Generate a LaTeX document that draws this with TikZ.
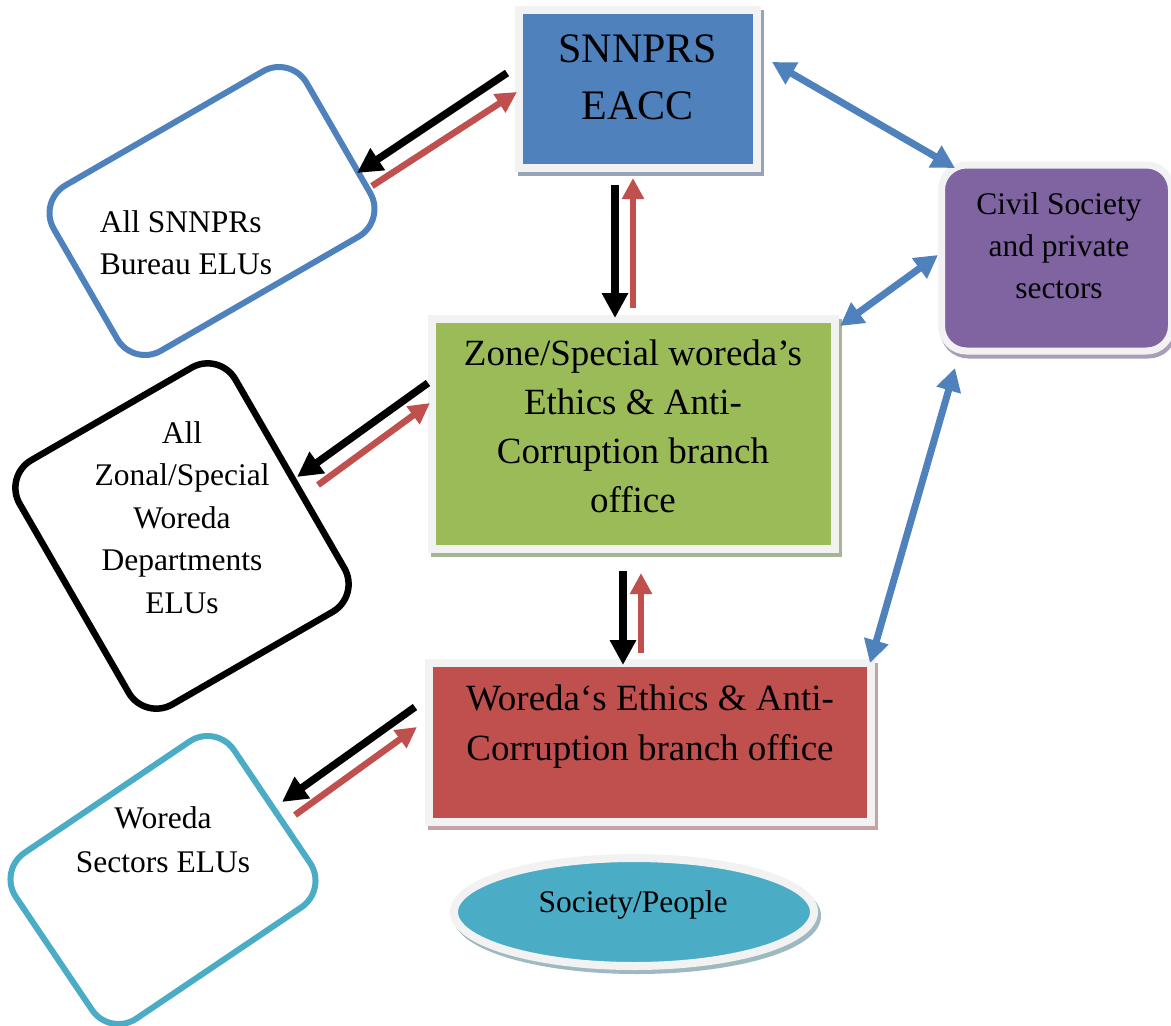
\documentclass[tikz,border=0pt]{standalone}
\usepackage{fontspec}
\setmainfont{Liberation Serif}
\usetikzlibrary{arrows.meta,shapes.geometric,shadows}
\definecolor{cblue}{HTML}{4F81BD}
\definecolor{cgreen}{HTML}{9BBB59}
\definecolor{cred}{HTML}{C0504D}
\definecolor{cpurple}{HTML}{8064A2}
\definecolor{cteal}{HTML}{4BACC6}
\definecolor{cframe}{HTML}{F2F2F2}
\definecolor{sblue}{HTML}{97A3B6}
\definecolor{sgreen}{HTML}{A8B595}
\definecolor{sred}{HTML}{C3A3A3}
\definecolor{spurple}{HTML}{AA9DB8}
\definecolor{steal}{HTML}{9EB9C0}
\begin{document}
\begin{tikzpicture}[x=1pt,y=-1pt,
  framedbox/.style 2 args={rectangle, draw=cframe, line width=8pt, inner sep=0pt, fill=#1,
    drop shadow={shadow xshift=3pt, shadow yshift=-4pt, fill=#2, draw=#2, line width=8pt, opacity=1}},
  bigtxt/.style={font=\fontsize{42}{57}\selectfont, align=center, inner sep=0pt},
  midtxt/.style={font=\fontsize{37}{49}\selectfont, align=center, inner sep=0pt},
  smalltxt/.style={font=\fontsize{31.5}{42.5}\selectfont, align=center, inner sep=0pt},
  rbox/.style={rectangle, rounded corners=32pt, line width=6pt, inner sep=0pt, fill=white},
  blackarr/.style={draw=black, line width=7.5pt, -{Triangle[length=25pt,width=25pt]}},
  redarr/.style={draw=cred, line width=6.5pt, -{Triangle[length=21pt,width=21pt]}},
  bluearr/.style={draw=cblue, line width=7pt, {Triangle[length=23pt,width=24pt]}-{Triangle[length=23pt,width=24pt]}}
]
\useasboundingbox[fill=white] (0,0) rectangle (1171,1026);

% main boxes
\node[framedbox={cblue}{sblue}, minimum width=238pt, minimum height=158pt] (eacc) at (638,89) {};
\node[bigtxt] (eacct) at (638,77.6) {SNNPRS\\EACC};

\node[framedbox={cgreen}{sgreen}, minimum width=403pt, minimum height=230pt] (zone) at (633,433.5) {};
\node[midtxt] (zonet) at (633,426.5) {Zone/Special woreda’s\\Ethics \& Anti-\\Corruption branch\\office};

\node[framedbox={cred}{sred}, minimum width=442pt, minimum height=159pt] (wor) at (650,742.5) {};
\node[midtxt, font=\fontsize{37}{50}\selectfont] (wort) at (650,726.4) {Woreda‘s Ethics \& Anti-\\Corruption branch office};

\node[rectangle, rounded corners=25pt, draw=cframe, line width=7pt, fill=cpurple, inner sep=0pt,
  minimum width=230pt, minimum height=186pt,
  drop shadow={shadow xshift=2pt, shadow yshift=-4pt, fill=spurple, draw=spurple, line width=7pt, opacity=1}] (civ) at (1056.5,258) {};
\node[smalltxt, font=\fontsize{31.5}{42.2}\selectfont] (civt) at (1059,245.5) {Civil Society\\and private\\sectors};

\node[ellipse, draw=cframe, line width=8pt, fill=cteal, inner sep=0pt,
  minimum width=360pt, minimum height=108pt,
  drop shadow={shadow xshift=3pt, shadow yshift=-4pt, fill=steal, draw=steal, line width=8pt, opacity=1}] (soc) at (634,912) {};
\node[smalltxt] (soct) at (633,904.7) {Society/People};

% rotated outline boxes
\node[rbox, draw=cblue, minimum width=292pt, minimum height=191pt, rotate=30] (b1) at (212,211) {};
\node[smalltxt, align=left] (b1t) at (186,242.9) {All SNNPRs\\Bureau ELUs};

\node[rbox, draw=black, line width=6.5pt, minimum width=249pt, minimum height=282pt, rotate=30] (b2) at (182,536) {};
\node[smalltxt] (b2t) at (182,517.4) {All\\Zonal/Special\\Woreda\\Departments\\ELUs};

\node[rbox, draw=cteal, minimum width=263pt, minimum height=200pt, rotate=34] (b3) at (163,880) {};
\node[smalltxt, font=\fontsize{31.5}{44}\selectfont] (b3t) at (163,839.4) {Woreda\\Sectors ELUs};

% connector end points
\coordinate (a1s) at (507,73);  \coordinate (a1e) at (357,173);
\coordinate (r1s) at (372,186); \coordinate (r1e) at (517,92);
\coordinate (a2s) at (428,383); \coordinate (a2e) at (297,477);
\coordinate (r2s) at (318,485); \coordinate (r2e) at (430,403);
\coordinate (a3s) at (415,707); \coordinate (a3e) at (282,802);
\coordinate (r3s) at (295,815); \coordinate (r3e) at (417,727);
\coordinate (v1s) at (615,185); \coordinate (v1e) at (615,318);
\coordinate (u1s) at (633,308); \coordinate (u1e) at (633,178);
\coordinate (v2s) at (623,571); \coordinate (v2e) at (623,665);
\coordinate (u2s) at (641,653); \coordinate (u2e) at (641,573);
\coordinate (c1a) at (772,62);  \coordinate (c1b) at (955,168);
\coordinate (c2a) at (840,326); \coordinate (c2b) at (938,255);
\coordinate (c3a) at (870,663); \coordinate (c3b) at (955,368);

% connectors
\draw[blackarr] (a1s) -- (a1e);
\draw[redarr] (r1s) -- (r1e);
\draw[blackarr] (a2s) -- (a2e);
\draw[redarr] (r2s) -- (r2e);
\draw[blackarr] (a3s) -- (a3e);
\draw[redarr] (r3s) -- (r3e);
\draw[blackarr] (v1s) -- (v1e);
\draw[redarr] (u1s) -- (u1e);
\draw[blackarr] (v2s) -- (v2e);
\draw[redarr] (u2s) -- (u2e);
\draw[bluearr] (c1a) -- (c1b);
\draw[bluearr] (c2a) -- (c2b);
\draw[bluearr] (c3a) -- (c3b);
\end{tikzpicture}
\end{document}
